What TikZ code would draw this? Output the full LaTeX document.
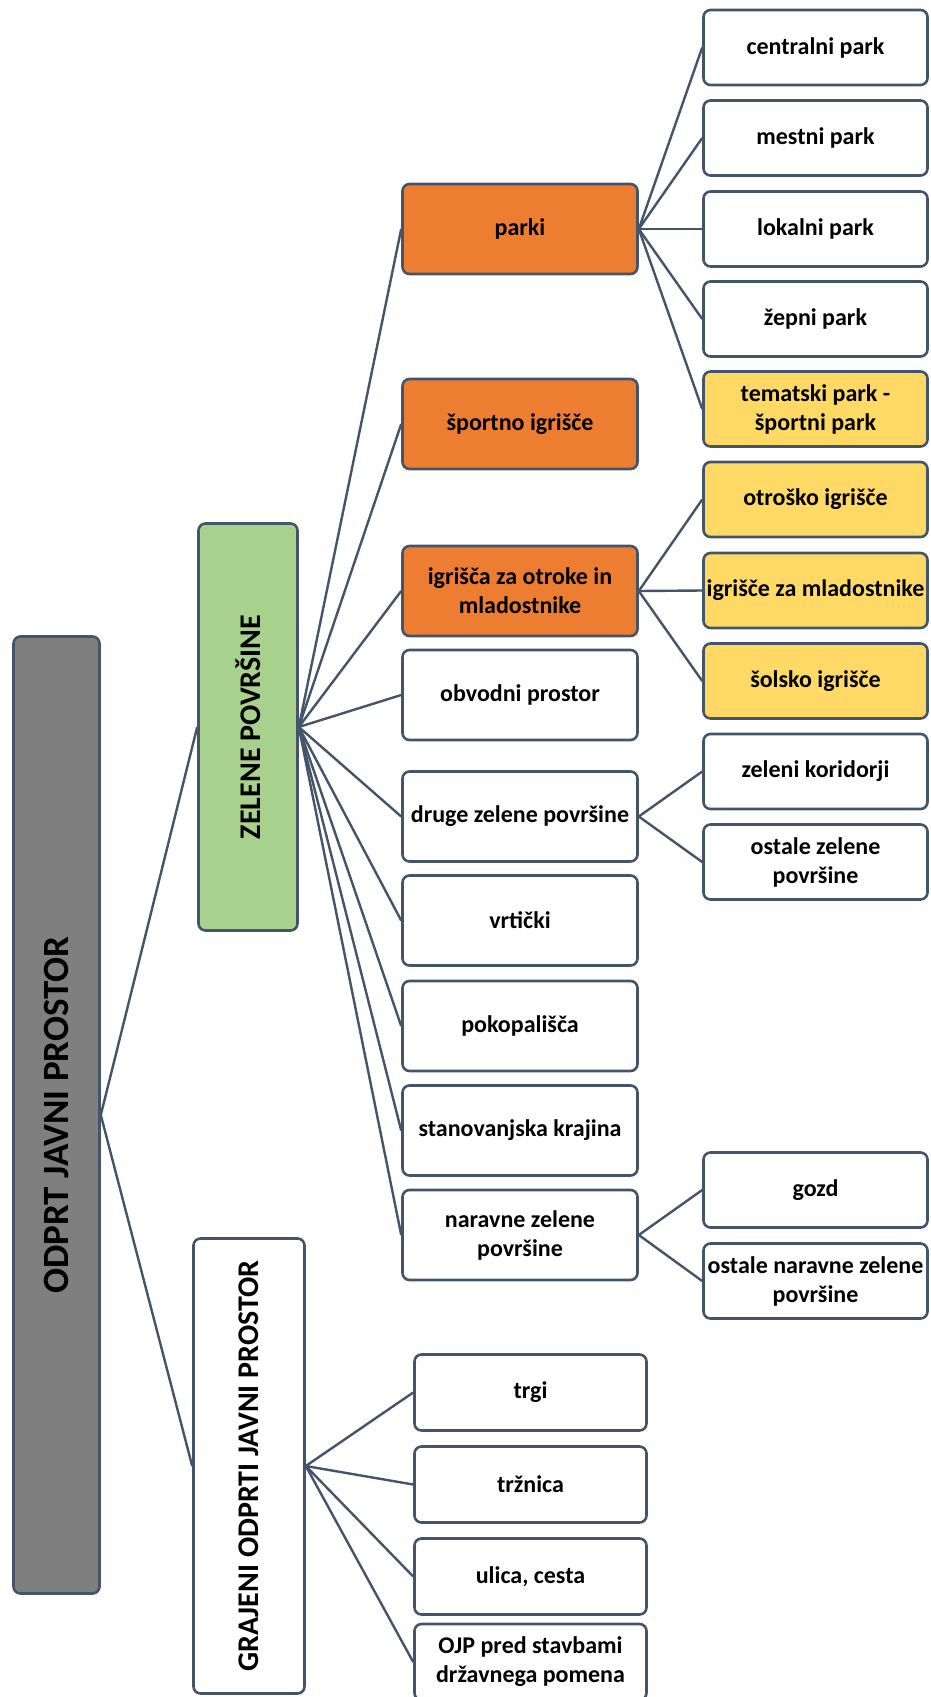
\documentclass[tikz,border=0pt]{standalone}
\usepackage{fontspec}
\setmainfont{Carlito}
\definecolor{linec}{HTML}{44546A}
\definecolor{rootgray}{HTML}{7F7F7F}
\definecolor{zelgreen}{HTML}{A9D18E}
\definecolor{parkorange}{HTML}{ED7D31}
\definecolor{subyellow}{HTML}{FFD966}
\tikzset{
  box/.style={draw=linec, line width=2.6pt, rounded corners=7pt, fill=white,
    font=\fontsize{24}{29}\selectfont\bfseries, align=center, inner sep=1pt},
  midbox/.style={box, minimum width=235pt, minimum height=90pt},
  leafbox/.style={box, minimum width=224pt, minimum height=75pt},
  lowbox/.style={box, minimum width=232pt, minimum height=76pt},
  link/.style={draw=linec, line width=2.4pt}
}
\begin{document}
\begin{tikzpicture}[x=1pt,y=-1pt]
    \useasboundingbox (0,0) rectangle (931,1697);

    % main branches
    \node[box, fill=rootgray, minimum width=86pt, minimum height=957pt] (root) at (56.5,1115) {};
    \node[rotate=90, font=\fontsize{37}{42}\selectfont\bfseries] at (root.center) {ODPRT JAVNI PROSTOR};
    \node[box, fill=zelgreen, minimum width=99pt, minimum height=407pt] (zel) at (248,727) {};
    \node[rotate=90, font=\fontsize{30}{35}\selectfont\bfseries] at (zel.center) {ZELENE POVRŠINE};
    \node[box, minimum width=111pt, minimum height=455pt] (graj) at (249,1466) {};
    \node[rotate=90, font=\fontsize{30}{35}\selectfont\bfseries] at (graj.center) {GRAJENI ODPRTI JAVNI PROSTOR};

    % green areas
    \node[midbox, fill=parkorange] (parki) at (520,229) {parki};
    \node[midbox, fill=parkorange] (sport) at (520,424) {športno igrišče};
    \node[midbox, fill=parkorange] (igr) at (520,591) {igrišča za otroke in\\mladostnike};
    \node[midbox] (obv) at (520,695) {obvodni prostor};
    \node[midbox] (druge) at (520,816.5) {druge zelene površine};
    \node[midbox] (vrt) at (520,920.5) {vrtički};
    \node[midbox] (pok) at (520,1026) {pokopališča};
    \node[midbox] (stan) at (520,1130.5) {stanovanjska krajina};
    \node[midbox] (narav) at (520,1235) {naravne zelene\\površine};

    % parks
    \node[leafbox] (cent) at (815.5,47.5) {centralni park};
    \node[leafbox] (mest) at (815.5,138) {mestni park};
    \node[leafbox] (lok) at (815.5,229) {lokalni park};
    \node[leafbox] (zep) at (815.5,319) {žepni park};
    \node[leafbox, fill=subyellow] (tem) at (815.5,409) {tematski park -\\športni park};

    % playgrounds
    \node[leafbox, fill=subyellow] (otr) at (815.5,499.5) {otroško igrišče};
    \node[leafbox, fill=subyellow] (mlad) at (815.5,590.5) {igrišče za mladostnike};
    \node[leafbox, fill=subyellow] (sol) at (815.5,681) {šolsko igrišče};

    % other green
    \node[leafbox] (kor) at (815.5,771.5) {zeleni koridorji};
    \node[leafbox] (ostz) at (815.5,862) {ostale zelene\\površine};
    \node[leafbox] (gozd) at (815.5,1190) {gozd};
    \node[leafbox] (ostn) at (815.5,1281) {ostale naravne zelene\\površine};

    % built areas
    \node[lowbox] (trgi) at (530.5,1392.5) {trgi};
    \node[lowbox] (trz) at (530.5,1484.5) {tržnica};
    \node[lowbox] (ulica) at (530.5,1576.5) {ulica, cesta};
    \node[lowbox] (ojp) at (530.5,1662) {OJP pred stavbami\\državnega pomena};

    % Connectors
    \draw[link] (root.east) -- (zel.west);
    \draw[link] (root.east) -- (graj.west);
    \foreach \c in {parki,sport,igr,obv,druge,vrt,pok,stan,narav}
        \draw[link] (zel.east) -- (\c.west);
    \foreach \c in {cent,mest,lok,zep,tem}
        \draw[link] (parki.east) -- (\c.west);
    \foreach \c in {otr,mlad,sol}
        \draw[link] (igr.east) -- (\c.west);
    \draw[link] (druge.east) -- (kor.west);
    \draw[link] (druge.east) -- (ostz.west);
    \draw[link] (narav.east) -- (gozd.west);
    \draw[link] (narav.east) -- (ostn.west);
    \foreach \c in {trgi,trz,ulica,ojp}
        \draw[link] (graj.east) -- (\c.west);

\end{tikzpicture}
\end{document}
